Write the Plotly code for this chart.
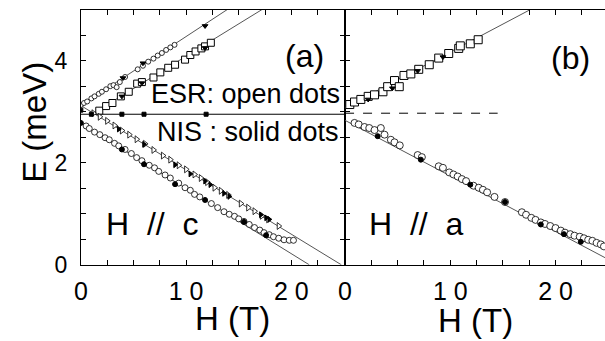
import plotly.graph_objects as go

# ---------------- Panel (a): H // c ----------------
# upper ESR branch (small open markers)
a_up_open_H = [0.0, 0.3, 0.6, 1.0, 1.3, 1.7, 2.0, 2.4, 2.8, 3.1, 3.4, 3.7, 4.2, 5.4, 5.9, 6.4, 6.9, 7.3, 7.7, 8.1, 8.5, 8.9]
a_up_open_E = [3.13, 3.17, 3.20, 3.26, 3.30, 3.35, 3.39, 3.44, 3.50, 3.52, 3.48, 3.58, 3.68, 3.83, 3.90, 3.98, 4.04, 4.10, 4.15, 4.21, 4.26, 4.31]
a_up_solid_H = [4.0, 5.9, 11.8]
a_up_solid_E = [3.66, 3.95, 4.68]

# second upward branch (open squares)
a_sq_H = [1.75, 2.4, 3.0, 3.8, 4.55, 5.35, 5.8, 6.9, 7.55, 8.3, 8.95, 9.9, 10.4, 10.9, 11.45, 11.8, 12.35]
a_sq_E = [3.02, 3.11, 3.17, 3.30, 3.39, 3.55, 3.58, 3.67, 3.77, 3.86, 3.92, 4.02, 4.11, 4.18, 4.24, 4.28, 4.35]
a_sq_solid_H = [3.9, 5.8, 11.8]
a_sq_solid_E = [3.30, 3.56, 4.25]

# flat NIS mode
a_flat_H = [0.0, 1.0, 3.9, 6.0, 11.9]
a_flat_E = [3.03, 2.95, 2.95, 2.95, 2.95]

# downward branch (open triangles)
a_tri_H = [1.2, 1.8, 2.5, 3.2, 3.9, 4.6, 5.3, 6.1, 6.9, 7.8, 8.5, 9.3, 10.0, 10.8, 11.4, 12.0, 12.7, 13.3, 14.0, 15.2, 15.9, 16.5, 17.2, 17.8, 18.8]
a_tri_E = [2.97, 2.90, 2.82, 2.73, 2.63, 2.55, 2.46, 2.37, 2.25, 2.14, 2.06, 1.95, 1.87, 1.77, 1.70, 1.62, 1.51, 1.45, 1.37, 1.20, 1.12, 1.05, 0.96, 0.89, 0.76]
a_tri_solid_H = [3.6, 6.0, 8.95, 10.4, 11.8, 12.3, 13.6, 14.1, 17.1, 17.6, 17.9]
a_tri_solid_E = [2.66, 2.36, 1.96, 1.78, 1.64, 1.57, 1.40, 1.34, 0.98, 0.92, 0.89]

# lowest branch (open circles)
a_ci_H = [0.5, 0.8, 1.3, 1.8, 2.3, 2.7, 3.2, 3.6, 4.2, 4.8, 5.3, 5.8, 6.5, 7.0, 7.4, 8.0, 8.5, 9.3, 9.9, 10.4, 10.8, 11.3, 12.4, 13.0, 13.6, 14.1, 14.6, 15.0, 15.5, 16.0, 16.5, 17.0, 17.4, 17.9, 18.3, 18.8, 19.3, 19.8, 20.2]
a_ci_E = [2.72, 2.67, 2.60, 2.55, 2.49, 2.45, 2.38, 2.33, 2.26, 2.18, 2.10, 2.04, 1.95, 1.90, 1.83, 1.76, 1.70, 1.60, 1.51, 1.46, 1.38, 1.33, 1.20, 1.12, 1.04, 0.99, 0.95, 0.90, 0.85, 0.79, 0.73, 0.68, 0.63, 0.59, 0.55, 0.52, 0.49, 0.48, 0.48]
a_ci_solid_H = [0.0, 3.9, 6.0, 8.95, 11.8, 15.5, 17.6]
a_ci_solid_E = [2.78, 2.26, 1.97, 1.58, 1.27, 0.84, 0.58]

# guide lines (end points)
a_line1_H, a_line1_E = [0.0, 13.9], [3.12, 5.0]
a_line2_H, a_line2_E = [0.8, 17.2], [2.92, 5.0]
a_line3_H, a_line3_E = [0.0, 24.75], [3.12, 0.0]
a_line4_H, a_line4_E = [0.0, 21.7], [2.77, 0.0]
a_flat_line_H, a_flat_line_E = [0.0, 25.1], [2.95, 2.95]

# ---------------- Panel (b): H // a ----------------
b_sq_H = [0.45, 0.9, 1.5, 2.2, 2.8, 3.6, 4.05, 4.7, 5.15, 5.6, 6.25, 7.0, 8.0, 8.9, 9.85, 10.8, 10.95, 11.9, 12.65]
b_sq_E = [3.14, 3.19, 3.24, 3.30, 3.33, 3.39, 3.49, 3.61, 3.49, 3.71, 3.74, 3.83, 3.92, 4.05, 4.14, 4.24, 4.29, 4.33, 4.41]
b_sq_solid_H = [2.2, 4.5, 6.9, 9.3]
b_sq_solid_E = [3.24, 3.46, 3.80, 4.07]

b_ci_H = [0.9, 1.3, 1.85, 2.3, 2.8, 3.4, 3.75, 4.35, 4.7, 5.2, 6.9, 7.3, 8.9, 9.3, 9.9, 10.3, 10.7, 11.1, 11.5, 12.2, 12.7, 13.1, 13.5, 14.2, 15.2, 16.8, 17.2, 17.7, 18.1, 18.6, 19.0, 19.5, 20.0, 20.5, 20.9, 21.4, 21.8, 22.3, 22.7, 23.1, 23.5, 23.9, 24.3, 24.6]
b_ci_E = [2.78, 2.75, 2.70, 2.68, 2.64, 2.68, 2.55, 2.45, 2.40, 2.34, 2.15, 2.11, 1.93, 1.90, 1.81, 1.77, 1.73, 1.68, 1.64, 1.55, 1.51, 1.47, 1.42, 1.33, 1.23, 1.03, 0.98, 0.92, 0.88, 0.83, 0.80, 0.76, 0.72, 0.67, 0.63, 0.60, 0.57, 0.55, 0.52, 0.49, 0.47, 0.43, 0.40, 0.36]
b_ci_solid_H = [3.1, 7.2, 11.9, 15.2, 18.6, 20.8, 22.4]
b_ci_solid_E = [2.52, 2.06, 1.57, 1.23, 0.79, 0.60, 0.45]

b_line_up_H, b_line_up_E = [0.0, 17.6], [3.08, 5.0]
b_line_dn_H, b_line_dn_E = [0.0, 24.7], [2.83, 0.14]
b_dash_H, b_dash_E = [0.0, 14.5], [2.97, 2.97]

# ticks
x_tickvals = [0, 2.5, 5, 7.5, 10, 12.5, 15, 17.5, 20, 22.5]
x_ticktext = ["0", "", "", "", "1 0", "", "", "", "2 0", ""]
y_tickvals = [0, 0.5, 1, 1.5, 2, 2.5, 3, 3.5, 4, 4.5]
y_ticktext = ["0", "", "", "", "2", "", "", "", "4", ""]

FONT = "Liberation Sans, Arial, sans-serif"

fig = go.Figure()

def line(x, y, ax, dash=None, color="#555555"):
    fig.add_trace(go.Scatter(x=x, y=y, mode="lines", xaxis=ax[0], yaxis=ax[1],
                             line=dict(color=color, width=1, dash=dash), hoverinfo="skip"))

def pts(x, y, ax, symbol, size, fill="white", lw=1):
    fig.add_trace(go.Scatter(x=x, y=y, mode="markers", xaxis=ax[0], yaxis=ax[1],
                             marker=dict(symbol=symbol, size=size, color=fill,
                                         line=dict(color="black", width=lw))))

A = ("x", "y")
B = ("x2", "y2")

line(a_line1_H, a_line1_E, A)
line(a_line2_H, a_line2_E, A)
line(a_line3_H, a_line3_E, A)
line(a_line4_H, a_line4_E, A)
line(a_flat_line_H, a_flat_line_E, A, color="black")
line(b_line_up_H, b_line_up_E, B)
line(b_line_dn_H, b_line_dn_E, B)
line(b_dash_H, b_dash_E, B, dash="dash", color="black")

pts(a_up_open_H, a_up_open_E, A, "circle", 5, lw=0.8)
pts(a_sq_H, a_sq_E, A, "square", 7)
pts(a_tri_H, a_tri_E, A, "triangle-right", 6, lw=0.8)
pts(a_ci_H, a_ci_E, A, "circle", 6, lw=0.8)
pts(a_up_solid_H, a_up_solid_E, A, "triangle-down", 5, fill="black")
pts(a_sq_solid_H, a_sq_solid_E, A, "triangle-down", 5, fill="black")
pts(a_flat_H, a_flat_E, A, "square", 4, fill="black")
pts(a_tri_solid_H, a_tri_solid_E, A, "triangle-right", 5, fill="black")
pts(a_ci_solid_H, a_ci_solid_E, A, "circle", 5, fill="black")

pts(b_sq_H, b_sq_E, B, "square", 8)
pts(b_ci_H, b_ci_E, B, "circle", 7, lw=0.8)
pts(b_sq_solid_H, b_sq_solid_E, B, "triangle-down", 5, fill="black")
pts(b_ci_solid_H, b_ci_solid_E, B, "circle", 5, fill="black")

common_x = dict(tickvals=x_tickvals, ticktext=x_ticktext, ticks="inside", ticklen=5,
                tickcolor="black", showline=True, linecolor="black", linewidth=1,
                showgrid=False, zeroline=False, tickfont=dict(size=25, family=FONT, color="black"),
                mirror="ticks", ticklabelstandoff=4)
common_y = dict(tickvals=y_tickvals, ticktext=y_ticktext, ticks="inside", ticklen=5,
                tickcolor="black", showline=True, linecolor="black", linewidth=1,
                showgrid=False, zeroline=False, range=[0, 5],
                domain=[0.1927, 0.9707], tickfont=dict(size=23, family=FONT, color="black"))

fig.update_layout(
    width=605, height=341, margin=dict(l=0, r=0, t=0, b=0),
    paper_bgcolor="white", plot_bgcolor="white", showlegend=False,
    font=dict(family=FONT, color="black"),
    xaxis=dict(domain=[0.1235, 0.5653], range=[0, 25.1], anchor="y", **common_x),
    xaxis2=dict(domain=[0.5653, 1.0], range=[0, 24.7], anchor="y2", **common_x),
    yaxis=dict(anchor="x", mirror="ticks", ticklabelstandoff=8, **common_y),
    yaxis2=dict(anchor="x2", showticklabels=False, mirror=False, **common_y),
)

def ann(text, x, y, size, angle=0):
    fig.add_annotation(text=text, x=x / 605, y=1 - y / 341, xref="paper", yref="paper",
                       showarrow=False, xanchor="center", yanchor="middle", textangle=angle,
                       font=dict(size=size, family=FONT, color="black"))

nb = "\u00a0"
ann("E (meV)", 27, 127, 33, angle=-90)
ann("H (T)", 228, 331, 33)
ann("H (T)", 474, 333, 33)
ann("(a)", 301, 58, 32)
ann("(b)", 570, 60, 32)
ann("ESR: open dots", 241.7, 98, 27)
ann("NIS : solid dots", 244.2, 137, 27)
ann("H" + nb * 2 + "//" + nb * 2 + "c", 147, 233, 32)
ann("H" + nb * 2 + "//" + nb * 2 + "a", 414, 233, 32)

fig.write_html("out.html")
